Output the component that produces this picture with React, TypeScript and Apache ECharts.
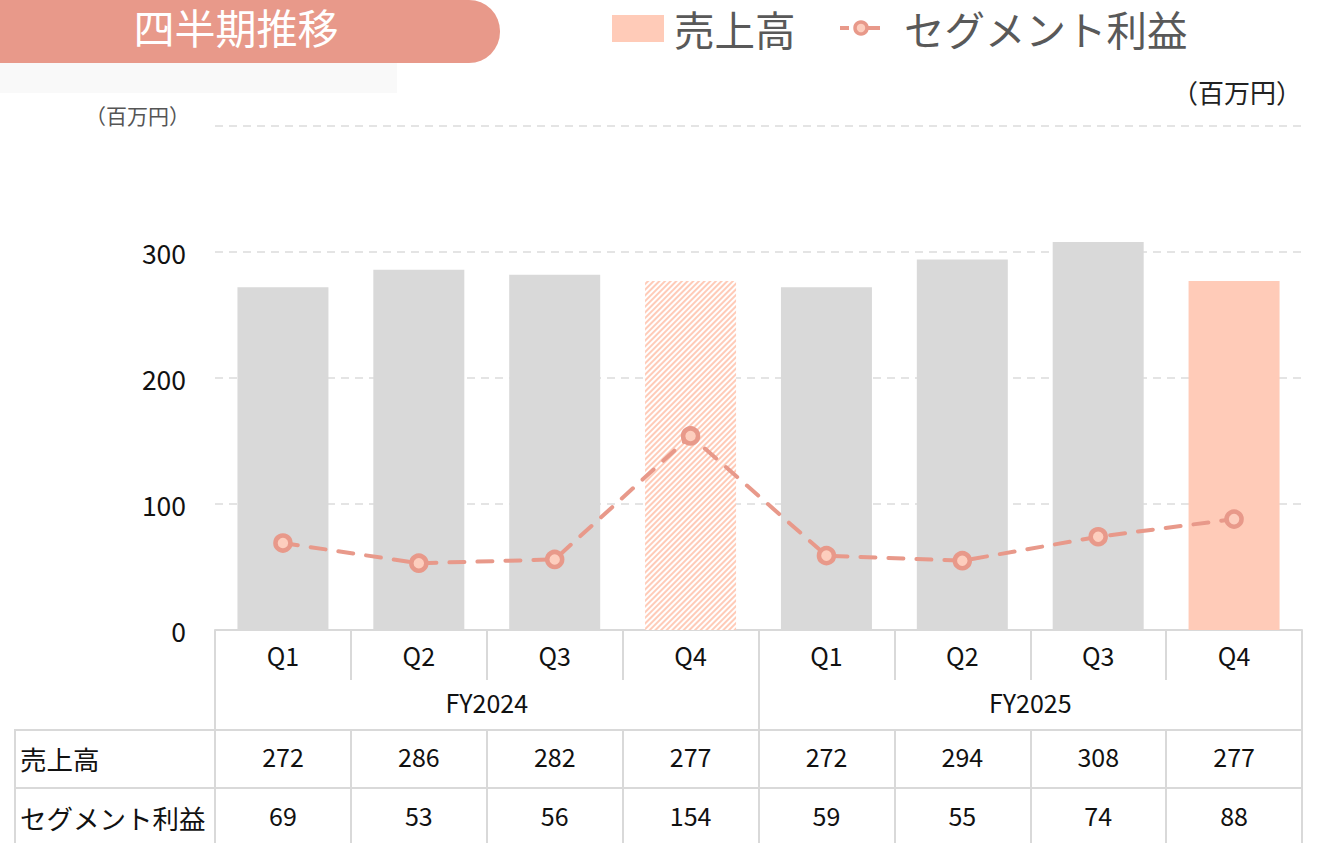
import React, { useEffect, useRef } from "react";
import * as echarts from "echarts";

const quarters = ["Q1", "Q2", "Q3", "Q4", "Q1", "Q2", "Q3", "Q4"];
const fiscalYears = ["FY2024", "FY2025"];
const sales = [272, 286, 282, 277, 272, 294, 308, 277];
const profit = [69, 53, 56, 154, 59, 55, 74, 88];
const yTicks = [0, 100, 200, 300, 400];
const seriesNames = ["売上高", "セグメント利益"];

const FONT = '"Noto Sans CJK JP", "Noto Sans", sans-serif';
const GRAY = "#d9d9d9";
const PEACH = "#ffcbb8";
const SALMON = "#e8998a";
const LINE = "#d9d9d9";

export default function App() {
  const ref = useRef<HTMLDivElement>(null);
  useEffect(() => {
    if (!ref.current) return;
    const chart = echarts.init(ref.current, null, { renderer: "svg" });
    const barData = sales.map((v, i) => {
      if (i === 3) {
        return {
          value: v,
          itemStyle: {
            color: "#ffffff",
            decal: {
              symbol: "rect",
              symbolSize: 1,
              color: PEACH,
              dashArrayX: [1, 0],
              dashArrayY: [2, 2],
              rotation: -Math.PI / 4,
            },
          },
        };
      }
      if (i === 7) return { value: v, itemStyle: { color: PEACH } };
      return { value: v, itemStyle: { color: GRAY } };
    });
    const labelStyle = { fontFamily: FONT, fontSize: 25, color: "#111" };
    const option: any = {
      animation: false,
      textStyle: { fontFamily: FONT },
      grid: { left: 215, right: 19, top: 126, bottom: 213, containLabel: false },
      xAxis: [
        {
          type: "category",
          data: quarters,
          axisLine: { show: true, lineStyle: { color: LINE, width: 2 } },
          axisTick: { show: true, length: 50, interval: 0, lineStyle: { color: LINE, width: 2 } },
          axisLabel: { ...labelStyle, margin: 12, interval: 0 },
        },
        {
          type: "category",
          data: fiscalYears,
          position: "bottom",
          offset: 50,
          axisLine: { show: false },
          axisTick: { show: true, length: 50, interval: 0, lineStyle: { color: LINE, width: 2 } },
          axisLabel: { ...labelStyle, margin: 9, interval: 0 },
        },
        {
          type: "category",
          data: sales.map(String),
          position: "bottom",
          offset: 100,
          axisLine: { show: true, lineStyle: { color: LINE, width: 2 } },
          axisTick: { show: true, length: 58, interval: 0, lineStyle: { color: LINE, width: 2 } },
          axisLabel: { ...labelStyle, margin: 13, interval: 0 },
        },
        {
          type: "category",
          data: profit.map(String),
          position: "bottom",
          offset: 158,
          axisLine: { show: true, lineStyle: { color: LINE, width: 2 } },
          axisTick: { show: true, length: 58, interval: 0, lineStyle: { color: LINE, width: 2 } },
          axisLabel: { ...labelStyle, margin: 14, interval: 0 },
        },
      ],
      yAxis: {
        type: "value",
        min: yTicks[0],
        max: yTicks[yTicks.length - 1],
        interval: 100,
        axisLine: { show: false },
        axisTick: { show: false },
        splitLine: { show: true, lineStyle: { color: "#dcdcdc", width: 1.5, type: [8, 6] } },
        axisLabel: {
          ...labelStyle,
          fontSize: 26.5,
          margin: 29,
          formatter: (v: number) => (v === 400 ? "" : String(v)),
        },
      },
      series: [
        {
          name: seriesNames[0],
          type: "bar",
          data: barData,
          barWidth: 91,
          xAxisIndex: 0,
          z: 2,
        },
        {
          name: seriesNames[1],
          type: "line",
          data: profit,
          xAxisIndex: 0,
          z: 5,
          symbol: "circle",
          symbolSize: 15,
          showSymbol: true,
          lineStyle: { color: SALMON, width: 4, type: [15, 13], cap: "round" },
          itemStyle: { color: "#fdcebe", borderColor: SALMON, borderWidth: 4.5 },
        },
      ],
      graphic: [
        { type: "rect", shape: { x: -10, y: 63, width: 407, height: 30 }, style: { fill: "#f9f9f9" } },
        { type: "rect", shape: { x: -40, y: 0, width: 540, height: 63, r: [0, 31, 31, 0] }, style: { fill: SALMON } },
        {
          type: "text",
          x: 236,
          y: 26,
          style: { text: "四半期推移", fill: "#fff", font: `41px ${FONT}`, align: "center", verticalAlign: "middle" },
        },
        { type: "rect", shape: { x: 612, y: 15, width: 52, height: 27 }, style: { fill: PEACH } },
        {
          type: "text",
          x: 674,
          y: 28,
          style: { text: seriesNames[0], fill: "#595959", font: `40.5px ${FONT}`, verticalAlign: "middle" },
        },
        { type: "line", shape: { x1: 840, y1: 28, x2: 849, y2: 28 }, style: { stroke: SALMON, lineWidth: 4 } },
        { type: "line", shape: { x1: 868, y1: 28, x2: 880, y2: 28 }, style: { stroke: SALMON, lineWidth: 4 } },
        { type: "circle", shape: { cx: 861, cy: 28, r: 6 }, style: { fill: "#fdcebe", stroke: SALMON, lineWidth: 3.5 } },
        {
          type: "text",
          x: 904,
          y: 28,
          style: { text: seriesNames[1], fill: "#595959", font: `40.5px ${FONT}`, verticalAlign: "middle" },
        },
        {
          type: "text",
          x: 1302,
          y: 91,
          style: { text: "（百万円）", fill: "#222", font: `26px ${FONT}`, align: "right", verticalAlign: "middle" },
        },
        {
          type: "text",
          x: 190,
          y: 115,
          style: { text: "（百万円）", fill: "#555", font: `21px ${FONT}`, align: "right", verticalAlign: "middle" },
        },
        { type: "line", shape: { x1: 15, y1: 730, x2: 215, y2: 730 }, style: { stroke: LINE, lineWidth: 2 } },
        { type: "line", shape: { x1: 15, y1: 788, x2: 215, y2: 788 }, style: { stroke: LINE, lineWidth: 2 } },
        { type: "line", shape: { x1: 15, y1: 729, x2: 15, y2: 850 }, style: { stroke: LINE, lineWidth: 2 } },
        {
          type: "text",
          x: 20,
          y: 758,
          style: { text: seriesNames[0], fill: "#111", font: `26.5px ${FONT}`, verticalAlign: "middle" },
        },
        {
          type: "text",
          x: 20,
          y: 817,
          style: { text: seriesNames[1], fill: "#111", font: `26.5px ${FONT}`, verticalAlign: "middle" },
        },
      ],
    };
    chart.setOption(option);
    return () => chart.dispose();
  }, []);
  return (
    <div
      ref={ref}
      style={{ position: "fixed", left: 0, top: 0, width: 1321, height: 843, background: "#fff" }}
    />
  );
}
